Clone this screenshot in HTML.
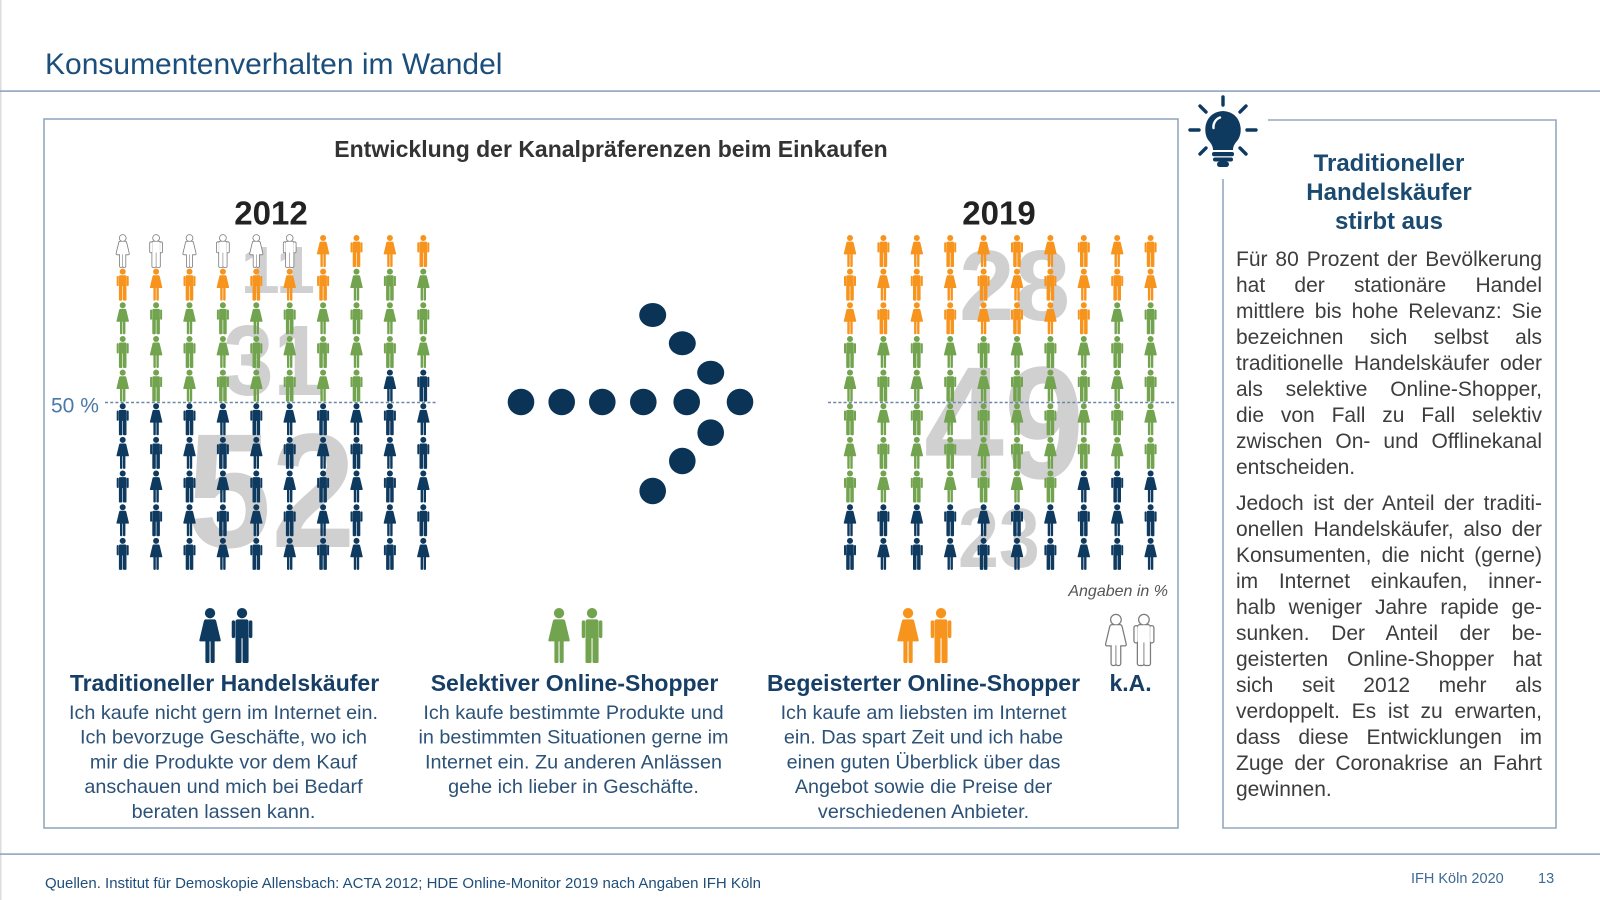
<!DOCTYPE html>
<html><head><meta charset="utf-8">
<style>
html,body{margin:0;padding:0;background:#fff;}
body{width:1600px;height:900px;position:relative;overflow:hidden;font-family:"Liberation Sans",Arial,sans-serif;}
svg{position:absolute;left:0;top:0;}
.b{fill:#0f3a60}.g{fill:#72a34e}.o{fill:#f7941d}
.p{position:absolute;left:1236px;width:306px;font-size:21px;line-height:26px;color:#3d3d3d;font-family:"Liberation Sans",Arial,sans-serif;}
.j{text-align:justify;text-align-last:justify;}
</style></head><body>
<svg width="1600" height="900" viewBox="0 0 1600 900" xmlns="http://www.w3.org/2000/svg">
<defs>
<g id="m"><circle cx="7" cy="3" r="3"/><rect x="3.2" y="6.6" width="7.6" height="11" rx="1.2"/><rect x="1" y="7.2" width="2" height="10.3" rx="1"/><rect x="11" y="7.2" width="2" height="10.3" rx="1"/><rect x="3.2" y="15" width="3.5" height="17" rx="0.9"/><rect x="7.3" y="15" width="3.5" height="17" rx="0.9"/></g>
<g id="w"><circle cx="7" cy="3" r="3"/><path d="M4.5 6.6H9.5Q10.3 6.6 10.6 7.6L13.2 18.6Q13.4 19.4 12.6 19.4H1.4Q0.6 19.4 0.8 18.6L3.4 7.6Q3.7 6.6 4.5 6.6Z"/><rect x="4.3" y="18" width="2.4" height="14" rx="0.9"/><rect x="7.3" y="18" width="2.4" height="14" rx="0.9"/></g>
<g id="mo"><use href="#m" fill="#7b7b7b" stroke="#7b7b7b" stroke-width="1.6"/><use href="#m" fill="#fff"/></g>
<g id="wo"><use href="#w" fill="#7b7b7b" stroke="#7b7b7b" stroke-width="1.6"/><use href="#w" fill="#fff"/></g>
</defs>

<rect x="0" y="0" width="1.5" height="900" fill="#dcdcdc"/>
<rect x="0" y="90.3" width="1600" height="1.6" fill="#8ea5bc"/>
<rect x="0" y="853.3" width="1600" height="1.6" fill="#8ea5bc"/>

<text x="45" y="74" font-family="Liberation Sans, Arial, sans-serif" font-size="30" fill="#1b4e7b">Konsumentenverhalten im Wandel</text>

<rect x="44" y="119" width="1134" height="709" fill="none" stroke="#93a9bf" stroke-width="1.6"/>

<path d="M1268 120H1556V828H1223V179" fill="none" stroke="#93a9bf" stroke-width="1.6"/>

<g fill="#0f3a5f" stroke="#0f3a5f" stroke-linecap="round" stroke-width="3.4">
<line x1="1223" y1="97" x2="1223" y2="105"/>
<line x1="1190" y1="130" x2="1199" y2="130"/>
<line x1="1247" y1="130" x2="1256" y2="130"/>
<line x1="1200" y1="106" x2="1206" y2="112"/>
<line x1="1246" y1="106" x2="1240" y2="112"/>
<line x1="1200" y1="154" x2="1206" y2="148"/>
<line x1="1246" y1="154" x2="1240" y2="148"/>
</g>
<path d="M1209 141C1202 133 1204 112 1223 111C1242 112 1244 133 1237 141C1234 144.5 1233 147 1233 150L1213 150C1213 147 1212 144.5 1209 141Z" fill="#0f3a5f"/>
<rect x="1212" y="152" width="22" height="4.2" rx="2" fill="#0f3a5f"/>
<rect x="1213" y="157.5" width="20" height="4" rx="2" fill="#0f3a5f"/>
<rect x="1217" y="161.5" width="12" height="5.5" rx="2.7" fill="#0f3a5f"/>
<path d="M1213.5 128A10 10 0 0 1 1220 117.5" fill="none" stroke="#fff" stroke-width="2.4" stroke-linecap="round"/>

<g font-family="Liberation Sans, Arial, sans-serif" font-weight="bold" font-size="24" fill="#1b4a70" text-anchor="middle">
<text x="1389" y="171">Traditioneller</text>
<text x="1389" y="200">Handelskäufer</text>
<text x="1389" y="229">stirbt aus</text>
</g>

<text x="611" y="157" text-anchor="middle" font-family="Liberation Sans, Arial, sans-serif" font-weight="bold" font-size="23" fill="#333">Entwicklung der Kanalpräferenzen beim Einkaufen</text>
<text x="271" y="224.5" text-anchor="middle" font-family="Liberation Sans, Arial, sans-serif" font-weight="bold" font-size="33" fill="#222">2012</text>
<text x="999" y="224.5" text-anchor="middle" font-family="Liberation Sans, Arial, sans-serif" font-weight="bold" font-size="33" fill="#222">2019</text>

<g font-family="Liberation Sans, Arial, sans-serif" font-weight="bold" fill="#d0d0d0">
<text x="240.6" y="293" font-size="67" textLength="74.5" lengthAdjust="spacingAndGlyphs">11</text>
<text x="223" y="395" font-size="100" textLength="101" lengthAdjust="spacingAndGlyphs">31</text>
<text x="187" y="547" font-size="163" textLength="168.5" lengthAdjust="spacingAndGlyphs">52</text>
<text x="959" y="320" font-size="100" textLength="111" lengthAdjust="spacingAndGlyphs">28</text>
<text x="924" y="478" font-size="160" textLength="160" lengthAdjust="spacingAndGlyphs">49</text>
<text x="958" y="567" font-size="84" textLength="81.7" lengthAdjust="spacingAndGlyphs">23</text>
</g>

<g transform="translate(115.7,235)">
<g>
<use href="#wo" x="0"/><use href="#mo" x="33.4"/><use href="#wo" x="66.8"/><use href="#mo" x="100.2"/><use href="#wo" x="133.6"/><use href="#mo" x="167"/><use href="#w" x="200.4" class="o"/><use href="#m" x="233.8" class="o"/><use href="#w" x="267.2" class="o"/><use href="#m" x="300.6" class="o"/>
</g>
<g class="o" transform="translate(0,33.65)">
<use href="#m" x="0"/><use href="#w" x="33.4"/><use href="#m" x="66.8"/><use href="#w" x="100.2"/><use href="#m" x="133.6"/><use href="#w" x="167"/><use href="#m" x="200.4"/><use href="#w" x="233.8" class="g"/><use href="#m" x="267.2" class="g"/><use href="#w" x="300.6" class="g"/>
</g>
<g class="g" transform="translate(0,67.3)">
<use href="#w" x="0"/><use href="#m" x="33.4"/><use href="#w" x="66.8"/><use href="#m" x="100.2"/><use href="#w" x="133.6"/><use href="#m" x="167"/><use href="#w" x="200.4"/><use href="#m" x="233.8"/><use href="#w" x="267.2"/><use href="#m" x="300.6"/>
</g>
<g class="g" transform="translate(0,100.95)">
<use href="#m" x="0"/><use href="#w" x="33.4"/><use href="#m" x="66.8"/><use href="#w" x="100.2"/><use href="#m" x="133.6"/><use href="#w" x="167"/><use href="#m" x="200.4"/><use href="#w" x="233.8"/><use href="#m" x="267.2"/><use href="#w" x="300.6"/>
</g>
<g class="g" transform="translate(0,134.6)">
<use href="#w" x="0"/><use href="#m" x="33.4"/><use href="#w" x="66.8"/><use href="#m" x="100.2"/><use href="#w" x="133.6"/><use href="#m" x="167"/><use href="#w" x="200.4"/><use href="#m" x="233.8"/><use href="#w" x="267.2" class="b"/><use href="#m" x="300.6" class="b"/>
</g>
<g class="b" transform="translate(0,168.25)">
<use href="#m" x="0"/><use href="#w" x="33.4"/><use href="#m" x="66.8"/><use href="#w" x="100.2"/><use href="#m" x="133.6"/><use href="#w" x="167"/><use href="#m" x="200.4"/><use href="#w" x="233.8"/><use href="#m" x="267.2"/><use href="#w" x="300.6"/>
</g>
<g class="b" transform="translate(0,201.9)">
<use href="#w" x="0"/><use href="#m" x="33.4"/><use href="#w" x="66.8"/><use href="#m" x="100.2"/><use href="#w" x="133.6"/><use href="#m" x="167"/><use href="#w" x="200.4"/><use href="#m" x="233.8"/><use href="#w" x="267.2"/><use href="#m" x="300.6"/>
</g>
<g class="b" transform="translate(0,235.55)">
<use href="#m" x="0"/><use href="#w" x="33.4"/><use href="#m" x="66.8"/><use href="#w" x="100.2"/><use href="#m" x="133.6"/><use href="#w" x="167"/><use href="#m" x="200.4"/><use href="#w" x="233.8"/><use href="#m" x="267.2"/><use href="#w" x="300.6"/>
</g>
<g class="b" transform="translate(0,269.2)">
<use href="#w" x="0"/><use href="#m" x="33.4"/><use href="#w" x="66.8"/><use href="#m" x="100.2"/><use href="#w" x="133.6"/><use href="#m" x="167"/><use href="#w" x="200.4"/><use href="#m" x="233.8"/><use href="#w" x="267.2"/><use href="#m" x="300.6"/>
</g>
<g class="b" transform="translate(0,302.85)">
<use href="#m" x="0"/><use href="#w" x="33.4"/><use href="#m" x="66.8"/><use href="#w" x="100.2"/><use href="#m" x="133.6"/><use href="#w" x="167"/><use href="#m" x="200.4"/><use href="#w" x="233.8"/><use href="#m" x="267.2"/><use href="#w" x="300.6"/>
</g>
</g>

<g transform="translate(843,235)">
<g class="o">
<use href="#w" x="0"/><use href="#m" x="33.4"/><use href="#w" x="66.8"/><use href="#m" x="100.2"/><use href="#w" x="133.6"/><use href="#m" x="167"/><use href="#w" x="200.4"/><use href="#m" x="233.8"/><use href="#w" x="267.2"/><use href="#m" x="300.6"/>
</g>
<g class="o" transform="translate(0,33.65)">
<use href="#m" x="0"/><use href="#w" x="33.4"/><use href="#m" x="66.8"/><use href="#w" x="100.2"/><use href="#m" x="133.6"/><use href="#w" x="167"/><use href="#m" x="200.4"/><use href="#w" x="233.8"/><use href="#m" x="267.2"/><use href="#w" x="300.6"/>
</g>
<g class="o" transform="translate(0,67.3)">
<use href="#w" x="0"/><use href="#m" x="33.4"/><use href="#w" x="66.8"/><use href="#m" x="100.2"/><use href="#w" x="133.6"/><use href="#m" x="167"/><use href="#w" x="200.4"/><use href="#m" x="233.8"/><use href="#w" x="267.2" class="g"/><use href="#m" x="300.6" class="g"/>
</g>
<g class="g" transform="translate(0,100.95)">
<use href="#m" x="0"/><use href="#w" x="33.4"/><use href="#m" x="66.8"/><use href="#w" x="100.2"/><use href="#m" x="133.6"/><use href="#w" x="167"/><use href="#m" x="200.4"/><use href="#w" x="233.8"/><use href="#m" x="267.2"/><use href="#w" x="300.6"/>
</g>
<g class="g" transform="translate(0,134.6)">
<use href="#w" x="0"/><use href="#m" x="33.4"/><use href="#w" x="66.8"/><use href="#m" x="100.2"/><use href="#w" x="133.6"/><use href="#m" x="167"/><use href="#w" x="200.4"/><use href="#m" x="233.8"/><use href="#w" x="267.2"/><use href="#m" x="300.6"/>
</g>
<g class="g" transform="translate(0,168.25)">
<use href="#m" x="0"/><use href="#w" x="33.4"/><use href="#m" x="66.8"/><use href="#w" x="100.2"/><use href="#m" x="133.6"/><use href="#w" x="167"/><use href="#m" x="200.4"/><use href="#w" x="233.8"/><use href="#m" x="267.2"/><use href="#w" x="300.6"/>
</g>
<g class="g" transform="translate(0,201.9)">
<use href="#w" x="0"/><use href="#m" x="33.4"/><use href="#w" x="66.8"/><use href="#m" x="100.2"/><use href="#w" x="133.6"/><use href="#m" x="167"/><use href="#w" x="200.4"/><use href="#m" x="233.8"/><use href="#w" x="267.2"/><use href="#m" x="300.6"/>
</g>
<g class="g" transform="translate(0,235.55)">
<use href="#m" x="0"/><use href="#w" x="33.4"/><use href="#m" x="66.8"/><use href="#w" x="100.2"/><use href="#m" x="133.6"/><use href="#w" x="167"/><use href="#m" x="200.4"/><use href="#w" x="233.8" class="b"/><use href="#m" x="267.2" class="b"/><use href="#w" x="300.6" class="b"/>
</g>
<g class="b" transform="translate(0,269.2)">
<use href="#w" x="0"/><use href="#m" x="33.4"/><use href="#w" x="66.8"/><use href="#m" x="100.2"/><use href="#w" x="133.6"/><use href="#m" x="167"/><use href="#w" x="200.4"/><use href="#m" x="233.8"/><use href="#w" x="267.2"/><use href="#m" x="300.6"/>
</g>
<g class="b" transform="translate(0,302.85)">
<use href="#m" x="0"/><use href="#w" x="33.4"/><use href="#m" x="66.8"/><use href="#w" x="100.2"/><use href="#m" x="133.6"/><use href="#w" x="167"/><use href="#m" x="200.4"/><use href="#w" x="233.8"/><use href="#m" x="267.2"/><use href="#w" x="300.6"/>
</g>
</g>

<line x1="105" y1="402.5" x2="437" y2="402.5" stroke="#6d87a3" stroke-width="1.5" stroke-dasharray="3 2.2"/>
<line x1="828" y1="402.5" x2="1176" y2="402.5" stroke="#6d87a3" stroke-width="1.5" stroke-dasharray="3 2.2"/>
<text x="51" y="412.5" font-family="Liberation Sans, Arial, sans-serif" font-size="21" fill="#4a79a8">50 %</text>

<g fill="#0b3356">
<circle cx="521" cy="402" r="13.3"/>
<circle cx="561.7" cy="402" r="13.3"/>
<circle cx="602.3" cy="402" r="13.3"/>
<circle cx="643.3" cy="402" r="13.3"/>
<circle cx="686.7" cy="402" r="13.3"/>
<circle cx="740" cy="402" r="13.3"/>
<ellipse cx="652.7" cy="315" rx="13.5" ry="12"/>
<ellipse cx="682.3" cy="343.3" rx="13.5" ry="12"/>
<ellipse cx="710.7" cy="372.7" rx="13.5" ry="12"/>
<circle cx="710.7" cy="432.7" r="13.3"/>
<circle cx="682.3" cy="461" r="13.3"/>
<circle cx="652.7" cy="491" r="13.3"/>
</g>

<text x="1168" y="596" text-anchor="end" font-family="Liberation Sans, Arial, sans-serif" font-style="italic" font-size="16" fill="#555">Angaben in %</text>

<g class="b"><use href="#w" transform="translate(198,608) scale(1.72)"/><use href="#m" transform="translate(230,608) scale(1.72)"/></g>
<g class="g"><use href="#w" transform="translate(547,608) scale(1.72)"/><use href="#m" transform="translate(580,608) scale(1.72)"/></g>
<g class="o"><use href="#w" transform="translate(896,608) scale(1.72)"/><use href="#m" transform="translate(929,608) scale(1.72)"/></g>
<use href="#wo" transform="translate(1105,615) scale(1.56)"/><use href="#mo" transform="translate(1133,615) scale(1.56)"/>

<g font-family="Liberation Sans, Arial, sans-serif" font-weight="bold" font-size="23" fill="#173f66" text-anchor="middle">
<text x="224.5" y="691">Traditioneller Handelskäufer</text>
<text x="574.5" y="691">Selektiver Online-Shopper</text>
<text x="923.5" y="691">Begeisterter Online-Shopper</text>
<text x="1130.6" y="691">k.A.</text>
</g>

<g font-family="Liberation Sans, Arial, sans-serif" font-size="19.8" fill="#2c5277" text-anchor="middle">
<text x="223.5" y="719">Ich kaufe nicht gern im Internet ein.</text>
<text x="223.5" y="743.7">Ich bevorzuge Geschäfte, wo ich</text>
<text x="223.5" y="768.4">mir die Produkte vor dem Kauf</text>
<text x="223.5" y="793.1">anschauen und mich bei Bedarf</text>
<text x="223.5" y="817.8">beraten lassen kann.</text>
<text x="573.5" y="719">Ich kaufe bestimmte Produkte und</text>
<text x="573.5" y="743.7">in bestimmten Situationen gerne im</text>
<text x="573.5" y="768.4">Internet ein. Zu anderen Anlässen</text>
<text x="573.5" y="793.1">gehe ich lieber in Geschäfte.</text>
<text x="923.5" y="719">Ich kaufe am liebsten im Internet</text>
<text x="923.5" y="743.7">ein. Das spart Zeit und ich habe</text>
<text x="923.5" y="768.4">einen guten Überblick über das</text>
<text x="923.5" y="793.1">Angebot sowie die Preise der</text>
<text x="923.5" y="817.8">verschiedenen Anbieter.</text>
</g>

<text x="45" y="888" font-family="Liberation Sans, Arial, sans-serif" font-size="15" fill="#1f4e79">Quellen. Institut für Demoskopie Allensbach: ACTA 2012; HDE Online-Monitor 2019 nach Angaben IFH Köln</text>
<text x="1411" y="883" font-family="Liberation Sans, Arial, sans-serif" font-size="14.5" fill="#3d6a96">IFH Köln 2020</text>
<text x="1538" y="883" font-family="Liberation Sans, Arial, sans-serif" font-size="14.5" fill="#3d6a96">13</text>
</svg>

<div class="p" style="top:247.4px">
<div class="j">Für 80 Prozent der Bevölkerung</div>
<div class="j">hat der stationäre Handel</div>
<div class="j">mittlere bis hohe Relevanz: Sie</div>
<div class="j">bezeichnen sich selbst als</div>
<div class="j">traditionelle Handelskäufer oder</div>
<div class="j">als selektive Online-Shopper,</div>
<div class="j">die von Fall zu Fall selektiv</div>
<div class="j">zwischen On- und Offlinekanal</div>
<div>entscheiden.</div>
</div>
<div class="p" style="top:490.7px">
<div class="j">Jedoch ist der Anteil der traditi-</div>
<div class="j">onellen Handelskäufer, also der</div>
<div class="j">Konsumenten, die nicht (gerne)</div>
<div class="j">im Internet einkaufen, inner-</div>
<div class="j">halb weniger Jahre rapide ge-</div>
<div class="j">sunken. Der Anteil der be-</div>
<div class="j">geisterten Online-Shopper hat</div>
<div class="j">sich seit 2012 mehr als</div>
<div class="j">verdoppelt. Es ist zu erwarten,</div>
<div class="j">dass diese Entwicklungen im</div>
<div class="j">Zuge der Coronakrise an Fahrt</div>
<div>gewinnen.</div>
</div>
</body></html>
